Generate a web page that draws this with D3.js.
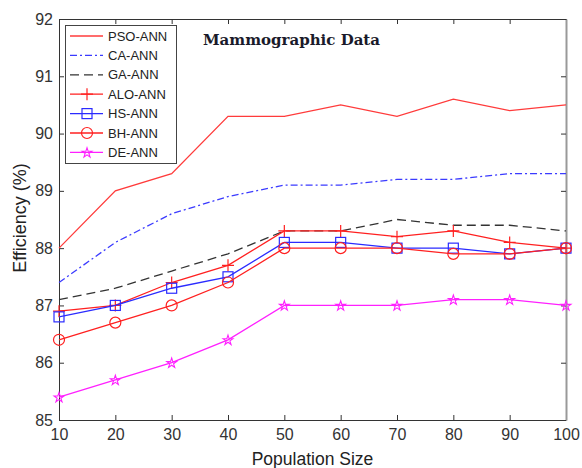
<!DOCTYPE html>
<html>
<head>
<meta charset="utf-8">
<script src="https://cdn.jsdelivr.net/npm/d3@7"></script>
<style>
  body { margin: 0; background: #fff; }
  svg text { font-family: "Liberation Sans", Arial, sans-serif; }
</style>
</head>
<body>
<div id="chart"></div>
<script>
// population sizes on the x axis
const popSizes = [10, 20, 30, 40, 50, 60, 70, 80, 90, 100];
const yTicks = [85, 86, 87, 88, 89, 90, 91, 92];

// efficiency (%) per method
const psoAnn = [88.0, 89.0, 89.3, 90.3, 90.3, 90.5, 90.3, 90.6, 90.4, 90.5];
const caAnn  = [87.4, 88.1, 88.6, 88.9, 89.1, 89.1, 89.2, 89.2, 89.3, 89.3];
const gaAnn  = [87.1, 87.3, 87.6, 87.9, 88.3, 88.3, 88.5, 88.4, 88.4, 88.3];
const aloAnn = [86.9, 87.0, 87.4, 87.7, 88.3, 88.3, 88.2, 88.3, 88.1, 88.0];
const hsAnn  = [86.8, 87.0, 87.3, 87.5, 88.1, 88.1, 88.0, 88.0, 87.9, 88.0];
const bhAnn  = [86.4, 86.7, 87.0, 87.4, 88.0, 88.0, 88.0, 87.9, 87.9, 88.0];
const deAnn  = [85.4, 85.7, 86.0, 86.4, 87.0, 87.0, 87.0, 87.1, 87.1, 87.0];

const series = [
  { name: 'PSO-ANN', values: psoAnn, color: '#ff3b3b', dash: null, marker: null },
  { name: 'CA-ANN', values: caAnn, color: '#3b3bff', dash: '7,3,2,3', marker: null },
  { name: 'GA-ANN', values: gaAnn, color: '#333', dash: '9,5', marker: null },
  { name: 'ALO-ANN', values: aloAnn, color: '#ff2020', dash: null, marker: 'plus' },
  { name: 'HS-ANN', values: hsAnn, color: '#2b2bff', dash: null, marker: 'square' },
  { name: 'BH-ANN', values: bhAnn, color: '#ff2020', dash: null, marker: 'circle' },
  { name: 'DE-ANN', values: deAnn, color: '#ff20ff', dash: null, marker: 'star' },
];

const width = 582;
const height = 468;
const margin = { top: 19, right: 15, bottom: 48, left: 59 };

const svg = d3.select('#chart')
  .append('svg')
  .attr('width', width)
  .attr('height', height);

const x = d3.scaleLinear()
  .domain([10, 100])
  .range([margin.left, width - margin.right - 1]);

const y = d3.scaleLinear()
  .domain([85, 92])
  .range([height - margin.bottom, margin.top]);

// frame with inward ticks on every side
const tickColor = '#333';
svg.append('g')
  .attr('transform', `translate(0, ${y(85)})`)
  .call(d3.axisBottom(x).tickValues(popSizes).tickSizeInner(-5).tickSizeOuter(0).tickPadding(9))
  .call(g => g.select('.domain').attr('stroke', tickColor))
  .call(g => g.selectAll('.tick line').attr('stroke', tickColor))
  .call(g => g.selectAll('text').attr('font-size', 16).attr('fill', '#333'));

svg.append('g')
  .attr('transform', `translate(${x(10)}, 0)`)
  .call(d3.axisLeft(y).tickValues(yTicks).tickFormat(d3.format('d')).tickSizeInner(-5).tickSizeOuter(0).tickPadding(6))
  .call(g => g.select('.domain').attr('stroke', tickColor))
  .call(g => g.selectAll('.tick line').attr('stroke', tickColor))
  .call(g => g.selectAll('text').attr('font-size', 16).attr('fill', '#333'));

svg.append('g')
  .attr('transform', `translate(0, ${y(92)})`)
  .call(d3.axisTop(x).tickValues(popSizes).tickSizeInner(-5).tickSizeOuter(0).tickFormat(''))
  .call(g => g.select('.domain').attr('stroke', tickColor))
  .call(g => g.selectAll('.tick line').attr('stroke', tickColor));

svg.append('g')
  .attr('transform', `translate(${x(100)}, 0)`)
  .call(d3.axisRight(y).tickValues(yTicks).tickSizeInner(-5).tickSizeOuter(0).tickFormat(''))
  .call(g => g.select('.domain').attr('stroke', '#999').attr('stroke-width', 2))
  .call(g => g.selectAll('.tick line').attr('stroke', tickColor));

// axis titles
svg.append('text')
  .attr('x', (x(10) + x(100)) / 2)
  .attr('y', 465)
  .attr('text-anchor', 'middle')
  .attr('font-size', 17.5)
  .attr('fill', '#222')
  .text('Population Size');

svg.append('text')
  .attr('transform', `translate(26, 218) rotate(-90)`)
  .attr('text-anchor', 'middle')
  .attr('font-size', 18)
  .attr('fill', '#222')
  .text('Efficiency (%)');

// chart title
svg.append('text')
  .attr('x', 203)
  .attr('y', 45)
  .style('font-family', '"DejaVu Serif", "Liberation Serif", serif')
  .attr('font-size', 15)
  .attr('font-weight', 'bold')
  .attr('fill', '#1a1a2a')
  .text('Mammographic Data');

const line = d3.line()
  .x((d, i) => x(popSizes[i]))
  .y(d => y(d));

const star = d3.symbol().type(d3.symbolStar).size(30);

function drawMarker(g, type, color, cx, cy) {
  if (type === 'plus') {
    g.append('path')
      .attr('d', `M${cx - 6},${cy}H${cx + 6}M${cx},${cy - 6}V${cy + 6}`)
      .attr('stroke', color).attr('stroke-width', 1.2).attr('fill', 'none');
  } else if (type === 'square') {
    g.append('rect')
      .attr('x', cx - 5).attr('y', cy - 5).attr('width', 10).attr('height', 10)
      .attr('stroke', color).attr('stroke-width', 1.2).attr('fill', 'none');
  } else if (type === 'circle') {
    g.append('circle')
      .attr('cx', cx).attr('cy', cy).attr('r', 5.5)
      .attr('stroke', color).attr('stroke-width', 1.2).attr('fill', 'none');
  } else if (type === 'star') {
    g.append('path')
      .attr('d', star())
      .attr('transform', `translate(${cx},${cy + 0.5})`)
      .attr('stroke', color).attr('stroke-width', 1.1).attr('fill', 'none');
  }
}

const plot = svg.append('g');
series.forEach(s => {
  const g = plot.append('g');
  g.append('path')
    .datum(s.values)
    .attr('d', line)
    .attr('fill', 'none')
    .attr('stroke', s.color)
    .attr('stroke-width', 1.3)
    .attr('stroke-dasharray', s.dash);
  if (s.marker) {
    s.values.forEach((v, i) => drawMarker(g, s.marker, s.color, x(popSizes[i]), y(v)));
  }
});

// legend
const legend = svg.append('g');
legend.append('rect')
  .attr('x', 65.5).attr('y', 25.5)
  .attr('width', 111).attr('height', 138)
  .attr('fill', '#fff').attr('stroke', '#444');

series.forEach((s, i) => {
  const ly = 36 + i * 19.4;
  legend.append('line')
    .attr('x1', 70).attr('x2', 103)
    .attr('y1', ly).attr('y2', ly)
    .attr('stroke', s.color).attr('stroke-width', 1.3)
    .attr('stroke-dasharray', s.dash);
  if (s.marker) drawMarker(legend, s.marker, s.color, 87, ly);
  legend.append('text')
    .attr('x', 108).attr('y', ly)
    .attr('dy', '0.35em')
    .attr('font-size', 13)
    .attr('fill', '#222')
    .text(s.name);
});
</script>
</body>
</html>
